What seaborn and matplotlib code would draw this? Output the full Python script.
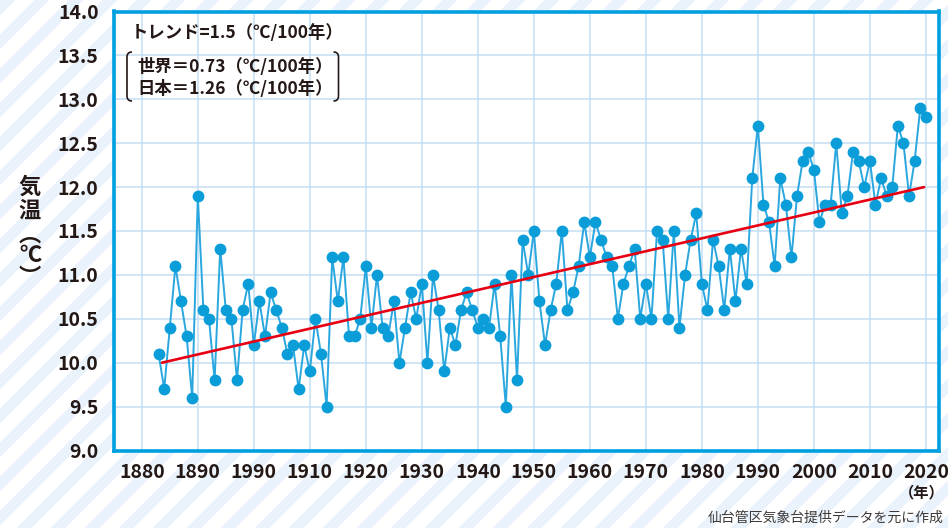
import numpy as np
import pandas as pd
import matplotlib.pyplot as plt
import matplotlib.patches as mpatches
from matplotlib.path import Path
import seaborn as sns

# annual mean temperature (Sendai)
years = list(range(1883, 2021))
temps = [10.1, 9.7, 10.4, 11.1, 10.7, 10.3, 9.6, 11.9, 10.6, 10.5,     # 1883-1892
         9.8, 11.3, 10.6, 10.5, 9.8, 10.6, 10.9, 10.2, 10.7, 10.3,     # 1893-1902
         10.8, 10.6, 10.4, 10.1, 10.2, 9.7, 10.2, 9.9, 10.5, 10.1,     # 1903-1912
         9.5, 11.2, 10.7, 11.2, 10.3, 10.3, 10.5, 11.1, 10.4, 11.0,    # 1913-1922
         10.4, 10.3, 10.7, 10.0, 10.4, 10.8, 10.5, 10.9, 10.0, 11.0,   # 1923-1932
         10.6, 9.9, 10.4, 10.2, 10.6, 10.8, 10.6, 10.4, 10.5, 10.4,    # 1933-1942
         10.9, 10.3, 9.5, 11.0, 9.8, 11.4, 11.0, 11.5, 10.7, 10.2,     # 1943-1952
         10.6, 10.9, 11.5, 10.6, 10.8, 11.1, 11.6, 11.2, 11.6, 11.4,   # 1953-1962
         11.2, 11.1, 10.5, 10.9, 11.1, 11.3, 10.5, 10.9, 10.5, 11.5,   # 1963-1972
         11.4, 10.5, 11.5, 10.4, 11.0, 11.4, 11.7, 10.9, 10.6, 11.4,   # 1973-1982
         11.1, 10.6, 11.3, 10.7, 11.3, 10.9, 12.1, 12.7, 11.8, 11.6,   # 1983-1992
         11.1, 12.1, 11.8, 11.2, 11.9, 12.3, 12.4, 12.2, 11.6, 11.8,   # 1993-2002
         11.8, 12.5, 11.7, 11.9, 12.4, 12.3, 12.0, 12.3, 11.8, 12.1,   # 2003-2012
         11.9, 12.0, 12.7, 12.5, 11.9, 12.3, 12.9, 12.8]               # 2013-2020

# trend line end points
trend_years = [1883.6, 2019.7]
trend_vals = [10.0, 12.0]

xticks = list(range(1880, 2021, 10))
xtick_labels = ['1880', '1890', '1990', '1910', '1920', '1930', '1940',
                '1950', '1960', '1970', '1980', '1990', '2000', '2010', '2020']
yticks = [9.0, 9.5, 10.0, 10.5, 11.0, 11.5, 12.0, 12.5, 13.0, 13.5, 14.0]

df = pd.DataFrame({'year': years, 'temp': temps})
trend = pd.DataFrame({'year': trend_years, 'temp': trend_vals})

BLUE = '#00a0e0'
GRID = '#c8e0f4'
TXT = '#231815'

sns.set_style('white')
plt.rcParams['font.family'] = ['Noto Sans CJK JP', 'DejaVu Sans']

W, H = 948, 528
fig = plt.figure(figsize=(W / 100, H / 100), dpi=100)

def fx(px):
    return px / W

def fy(py):
    return 1 - py / H

# striped background
bg = fig.add_axes([0, 0, 1, 1], zorder=-10)
xx, yy = np.meshgrid(np.arange(W), np.arange(H))
stripes = ((xx + yy) % 34) < 15
bg.imshow(stripes, cmap=sns.blend_palette(['white', '#eaf3fb'], as_cmap=True),
          extent=[0, W, H, 0], aspect='auto', interpolation='nearest')
bg.set_axis_off()

ax = fig.add_axes([fx(113.8), fy(450.5), (939.3 - 113.8) / W, (450.5 - 11.5) / H])
ax.set_facecolor('white')

sns.lineplot(data=df, x='year', y='temp', ax=ax, color='#2aa7df', lw=1.4,
             marker='o', markersize=8.5, markeredgewidth=0,
             markerfacecolor='#0a9dd8', zorder=3)
sns.lineplot(data=trend, x='year', y='temp', ax=ax, color='#e60012', lw=1.9, zorder=4)

ax.set_xlim(1875.0, 2022.4)
ax.set_ylim(9.0, 14.0)
ax.set_xticks(xticks)
ax.set_xticklabels(xtick_labels, fontweight='bold')
ax.set_yticks(yticks)
ax.set_yticklabels([f'{v:.1f}' for v in yticks], fontweight='bold')
ax.set_xlabel('')
ax.set_ylabel('')
ax.grid(True, color=GRID, lw=1.2)
ax.set_axisbelow(True)
ax.tick_params(axis='both', direction='out', length=5, width=1.1, color=GRID,
               labelsize=14, labelcolor=TXT)
ax.tick_params(axis='y', pad=6)
ax.tick_params(axis='x', pad=4)
for s in ax.spines.values():
    s.set_visible(True)
    s.set_color(BLUE)
    s.set_linewidth(2.6)

# trend annotations
fig.text(fx(131), fy(33), 'トレンド=1.5（℃/100年）', ha='left', va='center',
         fontsize=12.5, fontweight='bold', color=TXT)
fig.text(fx(137), fy(67), '世界＝0.73（℃/100年）', ha='left', va='center',
         fontsize=12.5, fontweight='bold', color=TXT)
fig.text(fx(137), fy(89), '日本＝1.26（℃/100年）', ha='left', va='center',
         fontsize=12.5, fontweight='bold', color=TXT)

def bracket(x_out, x_in, top, bot):
    verts = [(x_in, top), (x_out, top), (x_out, top + 5), (x_out, bot - 5),
             (x_out, bot), (x_in, bot)]
    codes = [Path.MOVETO, Path.CURVE3, Path.CURVE3, Path.LINETO,
             Path.CURVE3, Path.CURVE3]
    verts = [(fx(a), fy(b)) for a, b in verts]
    fig.patches.append(mpatches.PathPatch(Path(verts, codes), transform=fig.transFigure,
                                          fill=False, lw=1.2, color=TXT))

bracket(127, 132, 52, 101)
bracket(338.5, 333.5, 52, 101)

# vertical y label
ylab_chars = ['気', '温', '︵', '℃', '︶']
ylab_pos = [187, 211, 235, 256, 277]
for ch, py in zip(ylab_chars, ylab_pos):
    fig.text(fx(30), fy(py), ch, ha='center', va='center', fontsize=16,
             fontweight='bold', color=TXT)

fig.text(fx(945), fy(492), '（年）', ha='right', va='center', fontsize=11,
         fontweight='bold', color=TXT)
fig.text(fx(944), fy(518), '仙台管区気象台提供データを元に作成', ha='right', va='center',
         fontsize=10, color='#3e3a39')

fig.savefig('out.png', dpi=100)
